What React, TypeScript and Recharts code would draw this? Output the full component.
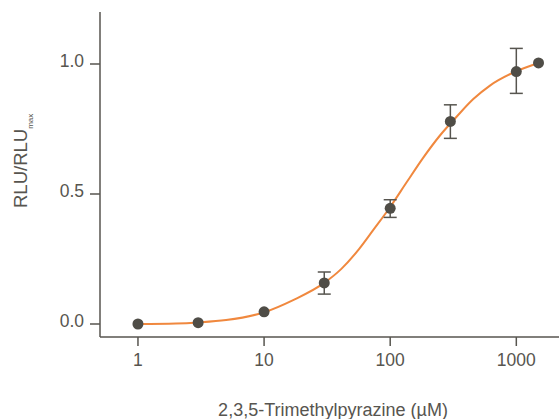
import {
  ComposedChart,
  ErrorBar,
  Line,
  Scatter,
  XAxis,
  YAxis,
} from "recharts";

// measured points (dose in µM, normalised response)
const doseUM = [1, 3, 10, 30, 100, 300, 1000, 1500];
const response = [0.0, 0.005, 0.047, 0.158, 0.445, 0.779, 0.971, 1.004];
const errLow = [null, null, null, 0.115, 0.41, 0.714, 0.887, null];
const errHigh = [null, null, null, 0.2, 0.478, 0.843, 1.06, null];

// fitted curve
const curveDose = [1, 2, 3, 5, 10, 17, 30, 41, 57, 73, 100, 135, 183, 248, 336, 456, 618, 1000, 1500];
const curveResp = [0.0, 0.002, 0.006, 0.015, 0.045, 0.092, 0.158, 0.212, 0.29, 0.36, 0.45, 0.545, 0.64, 0.725, 0.797, 0.865, 0.917, 0.972, 1.004];

const xTicks = [1, 10, 100, 1000];
const yTicks = [0, 0.5, 1.0];

const INK = "#57554f";
const ORANGE = "#f0883e";
const FONT = "'Liberation Sans', Arial, sans-serif";

const points = doseUM.map((x, i) => ({
  x,
  y: response[i],
  err:
    errLow[i] == null || errHigh[i] == null
      ? null
      : [response[i] - (errLow[i] as number), (errHigh[i] as number) - response[i]],
}));

const curve = curveDose.map((x, i) => ({ x, y: curveResp[i] }));

function XTick({ x, y, payload }: any) {
  return (
    <text x={x} y={y} dy="0.71em" textAnchor="middle" fill={INK} fontSize={17.5} fontFamily={FONT}>
      {payload.value}
    </text>
  );
}

function YTick({ x, y, payload }: any) {
  return (
    <text x={x} y={y - 3.5} dy="0.355em" textAnchor="end" fill={INK} fontSize={17.5} fontFamily={FONT}>
      {Number(payload.value).toFixed(1)}
    </text>
  );
}

function Dot({ cx, cy }: any) {
  return <circle cx={cx} cy={cy} r={5.5} fill="#4f4d47" />;
}

export default function App() {
  return (
    <div style={{ position: "absolute", left: 0, top: 0, background: "#fff" }}>
      <ComposedChart
        width={559}
        height={419}
        margin={{ top: 12, right: 0, bottom: 52, left: 40 }}
      >
        <XAxis
          dataKey="x"
          type="number"
          scale="log"
          domain={[0.5, 2180]}
          allowDataOverflow
          ticks={xTicks}
          height={30}
          tickSize={9}
          tickMargin={8}
          tick={<XTick />}
          axisLine={{ stroke: INK, strokeWidth: 1.5 }}
          tickLine={{ stroke: INK, strokeWidth: 1.5 }}
        />
        <YAxis
          dataKey="y"
          type="number"
          domain={[-0.05, 1.2]}
          allowDataOverflow
          ticks={yTicks}
          width={60}
          tickSize={10}
          tickMargin={6}
          tick={<YTick />}
          axisLine={{ stroke: INK, strokeWidth: 1.5 }}
          tickLine={{ stroke: INK, strokeWidth: 1.5 }}
          label={() => (
            <text
              transform="translate(27, 208) rotate(-90)"
              fill={INK}
              fontSize={18.5}
              fontFamily={FONT}
              textAnchor="start"
            >
              RLU/RLU
              <tspan fontSize={8} dy={6}>
                max
              </tspan>
            </text>
          )}
        />
        <Line
          data={curve}
          dataKey="y"
          type="monotone"
          stroke={ORANGE}
          strokeWidth={2}
          dot={false}
          activeDot={false}
          isAnimationActive={false}
        />
        <Scatter data={points} dataKey="y" shape={<Dot />} isAnimationActive={false}>
          <ErrorBar
            dataKey="err"
            direction="y"
            width={6.5}
            stroke={INK}
            strokeWidth={1.5}
            isAnimationActive={false}
          />
        </Scatter>
      </ComposedChart>
      <div
        style={{
          position: "absolute",
          left: 333,
          top: 400,
          transform: "translateX(-50%)",
          whiteSpace: "nowrap",
          color: INK,
          fontSize: 18,
          fontFamily: FONT,
          lineHeight: "20px",
        }}
      >
        2,3,5-Trimethylpyrazine (µM)
      </div>
    </div>
  );
}
